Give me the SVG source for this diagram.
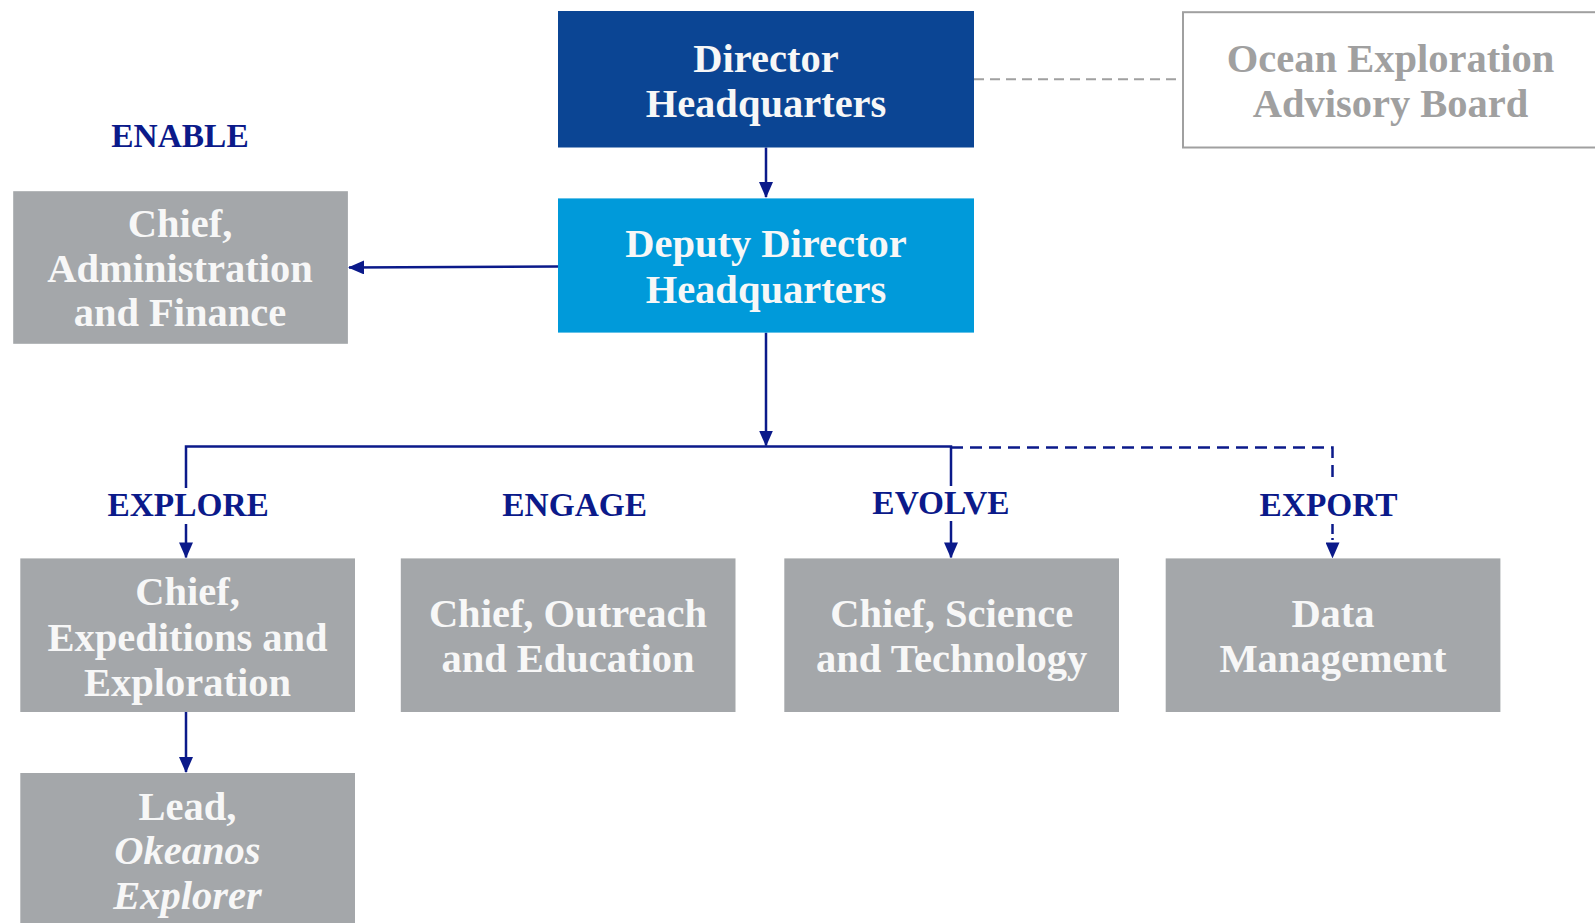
<svg xmlns="http://www.w3.org/2000/svg" width="1595" height="923" viewBox="0 0 1595 923">
<defs>
<style>
.t{font-family:"Liberation Serif","Times New Roman",serif;font-weight:bold;font-size:40.5px;text-anchor:middle}
.w{fill:#F7F7F7}
.lab{font-family:"Liberation Serif","Times New Roman",serif;font-weight:bold;font-size:33.4px;text-anchor:middle;fill:#0B1A8A}
.gray{fill:#A4A7AA}
.c{stroke:#0B1A8A;stroke-width:2.5;fill:none}
</style>
<marker id="ah2" markerWidth="16" markerHeight="14" refX="15" refY="7" orient="auto" markerUnits="userSpaceOnUse" viewBox="0 0 16 14">
<path d="M0,0 L16,7 L0,14 z" fill="#0B1A8A"/>
</marker>
</defs>
<rect width="1595" height="923" fill="#FFFFFF"/>
<g id="connectors">
<line x1="974" y1="79.3" x2="1183" y2="79.3" stroke="#A0A0A0" stroke-width="2" stroke-dasharray="10,6"/>
<line class="c" x1="766" y1="147.5" x2="766" y2="197" marker-end="url(#ah2)"/>
<line class="c" x1="558" y1="266.5" x2="349" y2="267.5" marker-end="url(#ah2)"/>
<line class="c" x1="766" y1="332.6" x2="766" y2="445.5" marker-end="url(#ah2)"/>
<polyline class="c" points="186,488 186,446.5 951,446.5 951,486"/>
<path class="c" d="M951,447.5 L1332.5,447.5 L1332.5,483" stroke-dasharray="12,7"/>
<line class="c" x1="186" y1="524" x2="186" y2="557.4" marker-end="url(#ah2)"/>
<line class="c" x1="951" y1="521" x2="951" y2="557.4" marker-end="url(#ah2)"/>
<line class="c" x1="1332.5" y1="524" x2="1332.5" y2="557.4" stroke-dasharray="10,4,2,4" marker-end="url(#ah2)"/>
<line class="c" x1="186" y1="712" x2="186" y2="772" marker-end="url(#ah2)"/>
</g>
<g id="director">
<rect x="558" y="11" width="416" height="136.5" fill="#0B4594"/>
<text class="t w" x="766" y="72">Director</text>
<text class="t w" x="766" y="116.8">Headquarters</text>
</g>
<g id="advisory">
<rect x="1183" y="12.2" width="440" height="135.3" fill="#FFFFFF" stroke="#A0A0A0" stroke-width="2"/>
<text class="t" x="1390.5" y="72" fill="#A0A0A0">Ocean Exploration</text>
<text class="t" x="1390.5" y="116.8" fill="#A0A0A0">Advisory Board</text>
</g>
<g id="deputy">
<rect x="558" y="198.4" width="416" height="134.2" fill="#009ADA"/>
<text class="t w" x="766" y="257.2">Deputy Director</text>
<text class="t w" x="766" y="302.9">Headquarters</text>
</g>
<g id="enable-label"><text class="lab" x="180" y="147">ENABLE</text></g>
<g id="admin">
<rect class="gray" x="13.2" y="191.2" width="334.7" height="152.6"/>
<text class="t w" x="180" y="236.8">Chief,</text>
<text class="t w" x="180" y="281.6">Administration</text>
<text class="t w" x="180" y="326.3">and Finance</text>
</g>
<g id="labels">
<text class="lab" x="188.2" y="516.2">EXPLORE</text>
<text class="lab" x="574.7" y="516.2">ENGAGE</text>
<text class="lab" x="941" y="514.2">EVOLVE</text>
<text class="lab" x="1328.5" y="516.2">EXPORT</text>
</g>
<g id="expeditions">
<rect class="gray" x="20.3" y="558.4" width="334.7" height="153.6"/>
<text class="t w" x="187.5" y="605">Chief,</text>
<text class="t w" x="187.5" y="650.8">Expeditions and</text>
<text class="t w" x="187.5" y="695.6">Exploration</text>
</g>
<g id="outreach">
<rect class="gray" x="400.8" y="558.4" width="334.7" height="153.6"/>
<text class="t w" x="568" y="627.4">Chief, Outreach</text>
<text class="t w" x="568" y="672.2">and Education</text>
</g>
<g id="science">
<rect class="gray" x="784.3" y="558.4" width="334.7" height="153.6"/>
<text class="t w" x="951.7" y="627.4">Chief, Science</text>
<text class="t w" x="951.7" y="672.2">and Technology</text>
</g>
<g id="data">
<rect class="gray" x="1165.7" y="558.4" width="334.7" height="153.6"/>
<text class="t w" x="1333" y="627.4">Data</text>
<text class="t w" x="1333" y="672.2">Management</text>
</g>
<g id="lead">
<rect class="gray" x="20.3" y="773" width="334.7" height="150"/>
<text class="t w" x="187.5" y="819.7">Lead,</text>
<text class="t w" x="187.5" y="864.4" font-style="italic">Okeanos</text>
<text class="t w" x="187.5" y="909.2" font-style="italic">Explorer</text>
</g>
</svg>
